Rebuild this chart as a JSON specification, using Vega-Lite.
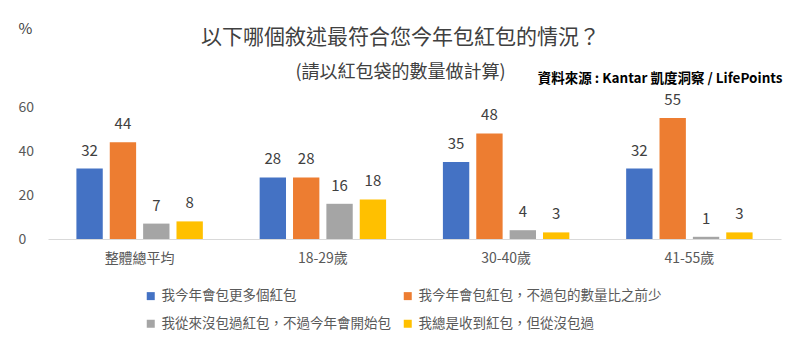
{
  "$schema": "https://vega.github.io/schema/vega-lite/v6.json",
  "autosize": "none",
  "width": 733,
  "height": 132,
  "padding": {"left": 48, "top": 107, "right": 19, "bottom": 112},
  "background": "white",
  "config": {
    "font": "Noto Sans CJK TC",
    "view": {"stroke": null}
  },
  "title": {
    "text": "以下哪個敘述最符合您今年包紅包的情況？",
    "subtitle": "(請以紅包袋的數量做計算)",
    "anchor": "middle",
    "frame": "group",
    "fontSize": 21,
    "fontWeight": "normal",
    "color": "#404040",
    "subtitleFontSize": 18,
    "subtitleColor": "#404040",
    "subtitlePadding": 16,
    "offset": 0,
    "dx": -14,
    "dy": 61
  },
  "data": {
    "values": [
      {"group": "整體總平均", "series": "我今年會包更多個紅包", "value": 32},
      {"group": "整體總平均", "series": "我今年會包紅包，不過包的數量比之前少", "value": 44},
      {"group": "整體總平均", "series": "我從來沒包過紅包，不過今年會開始包", "value": 7},
      {"group": "整體總平均", "series": "我總是收到紅包，但從沒包過", "value": 8},
      {"group": "18-29歲", "series": "我今年會包更多個紅包", "value": 28},
      {"group": "18-29歲", "series": "我今年會包紅包，不過包的數量比之前少", "value": 28},
      {"group": "18-29歲", "series": "我從來沒包過紅包，不過今年會開始包", "value": 16},
      {"group": "18-29歲", "series": "我總是收到紅包，但從沒包過", "value": 18},
      {"group": "30-40歲", "series": "我今年會包更多個紅包", "value": 35},
      {"group": "30-40歲", "series": "我今年會包紅包，不過包的數量比之前少", "value": 48},
      {"group": "30-40歲", "series": "我從來沒包過紅包，不過今年會開始包", "value": 4},
      {"group": "30-40歲", "series": "我總是收到紅包，但從沒包過", "value": 3},
      {"group": "41-55歲", "series": "我今年會包更多個紅包", "value": 32},
      {"group": "41-55歲", "series": "我今年會包紅包，不過包的數量比之前少", "value": 55},
      {"group": "41-55歲", "series": "我從來沒包過紅包，不過今年會開始包", "value": 1},
      {"group": "41-55歲", "series": "我總是收到紅包，但從沒包過", "value": 3}
    ]
  },
  "encoding": {
    "x": {
      "field": "group",
      "type": "nominal",
      "sort": null,
      "scale": {"paddingInner": 0.31, "paddingOuter": 0.155},
      "axis": {
        "labelAngle": 0,
        "labelFontSize": 14,
        "labelColor": "#595959",
        "labelPadding": 12,
        "ticks": false,
        "tickSize": 0,
        "domainColor": "#d9d9d9",
        "title": "資料來源 : Kantar 凱度洞察 / LifePoints",
        "titleX": 734,
        "titleY": -161,
        "titleAlign": "right",
        "titleAnchor": null,
        "titleBaseline": "middle",
        "titleFontWeight": "bold",
        "titleFontSize": 13.5,
        "titleColor": "#000000"
      }
    },
    "xOffset": {
      "field": "series",
      "type": "nominal",
      "sort": null,
      "scale": {"paddingInner": 0.21, "paddingOuter": 0}
    },
    "y": {
      "field": "value",
      "type": "quantitative",
      "scale": {"domain": [0, 60], "nice": false},
      "axis": {
        "values": [0, 20, 40, 60],
        "grid": false,
        "domain": false,
        "ticks": false,
        "tickSize": 0,
        "labelAlign": "left",
        "labelPadding": 30,
        "labelFontSize": 14,
        "labelColor": "#595959",
        "title": "%",
        "titleAngle": 0,
        "titleX": -30,
        "titleY": -79,
        "titleAlign": "left",
        "titleBaseline": "middle",
        "titleFontSize": 15,
        "titleFontWeight": "normal",
        "titleColor": "#404040"
      }
    }
  },
  "layer": [
    {
      "mark": {"type": "bar"},
      "encoding": {
        "color": {
          "field": "series",
          "type": "nominal",
          "sort": null,
          "scale": {
            "domain": ["我今年會包更多個紅包", "我今年會包紅包，不過包的數量比之前少", "我從來沒包過紅包，不過今年會開始包", "我總是收到紅包，但從沒包過"],
            "range": ["#4472C4", "#ED7D31", "#A5A5A5", "#FFC000"]
          },
          "legend": {
            "orient": "none",
            "legendX": 96,
            "legendY": 182,
            "direction": "horizontal",
            "columns": 2,
            "title": null,
            "symbolType": "square",
            "symbolSize": 64,
            "symbolStrokeWidth": 0,
            "labelFontSize": 13.5,
            "labelColor": "#595959",
            "labelLimit": 0,
            "labelOffset": 4,
            "rowPadding": 13,
            "columnPadding": 10
          }
        }
      }
    },
    {
      "mark": {"type": "text", "baseline": "middle", "dy": -18, "fontSize": 15, "color": "#404040"},
      "encoding": {
        "text": {"field": "value", "type": "quantitative"}
      }
    }
  ]
}
